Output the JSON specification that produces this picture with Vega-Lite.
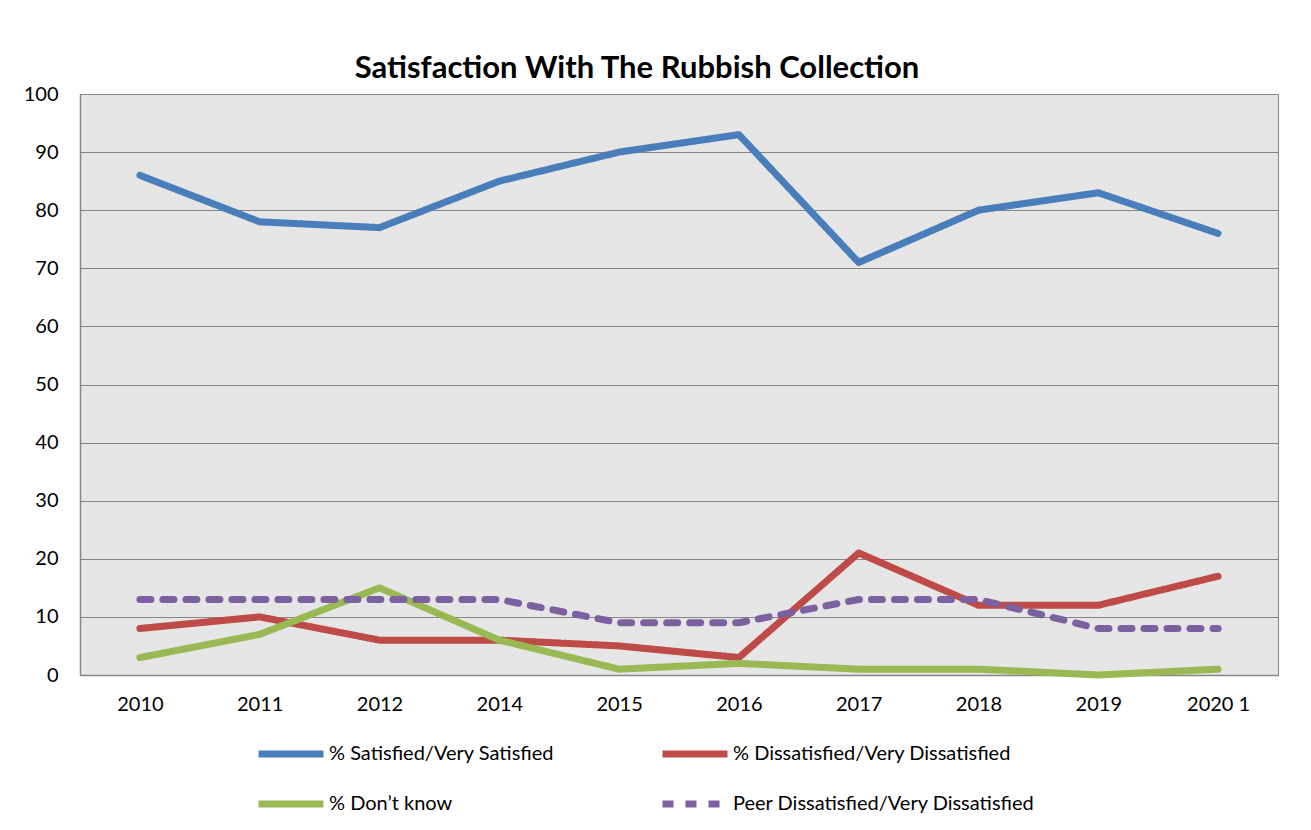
{
  "$schema": "https://vega.github.io/schema/vega-lite/v6.json",
  "width": 1198,
  "height": 581,
  "autosize": {"type": "none"},
  "padding": {"left": 80, "top": 94, "right": 33, "bottom": 155},
  "background": "white",
  "title": {
    "text": "Satisfaction With The Rubbish Collection",
    "font": "Lato",
    "fontSize": 31,
    "fontWeight": "bold",
    "color": "#000000",
    "anchor": "middle",
    "frame": "group",
    "dx": -42,
    "offset": -1
  },
  "data": {
    "values": [
      {"year": "2010", "series": "% Satisfied/Very Satisfied", "value": 86},
      {"year": "2011", "series": "% Satisfied/Very Satisfied", "value": 78},
      {"year": "2012", "series": "% Satisfied/Very Satisfied", "value": 77},
      {"year": "2014", "series": "% Satisfied/Very Satisfied", "value": 85},
      {"year": "2015", "series": "% Satisfied/Very Satisfied", "value": 90},
      {"year": "2016", "series": "% Satisfied/Very Satisfied", "value": 93},
      {"year": "2017", "series": "% Satisfied/Very Satisfied", "value": 71},
      {"year": "2018", "series": "% Satisfied/Very Satisfied", "value": 80},
      {"year": "2019", "series": "% Satisfied/Very Satisfied", "value": 83},
      {"year": "2020 1", "series": "% Satisfied/Very Satisfied", "value": 76},
      {"year": "2010", "series": "% Dissatisfied/Very Dissatisfied", "value": 8},
      {"year": "2011", "series": "% Dissatisfied/Very Dissatisfied", "value": 10},
      {"year": "2012", "series": "% Dissatisfied/Very Dissatisfied", "value": 6},
      {"year": "2014", "series": "% Dissatisfied/Very Dissatisfied", "value": 6},
      {"year": "2015", "series": "% Dissatisfied/Very Dissatisfied", "value": 5},
      {"year": "2016", "series": "% Dissatisfied/Very Dissatisfied", "value": 3},
      {"year": "2017", "series": "% Dissatisfied/Very Dissatisfied", "value": 21},
      {"year": "2018", "series": "% Dissatisfied/Very Dissatisfied", "value": 12},
      {"year": "2019", "series": "% Dissatisfied/Very Dissatisfied", "value": 12},
      {"year": "2020 1", "series": "% Dissatisfied/Very Dissatisfied", "value": 17},
      {"year": "2010", "series": "% Don’t know", "value": 3},
      {"year": "2011", "series": "% Don’t know", "value": 7},
      {"year": "2012", "series": "% Don’t know", "value": 15},
      {"year": "2014", "series": "% Don’t know", "value": 6},
      {"year": "2015", "series": "% Don’t know", "value": 1},
      {"year": "2016", "series": "% Don’t know", "value": 2},
      {"year": "2017", "series": "% Don’t know", "value": 1},
      {"year": "2018", "series": "% Don’t know", "value": 1},
      {"year": "2019", "series": "% Don’t know", "value": 0},
      {"year": "2020 1", "series": "% Don’t know", "value": 1},
      {"year": "2010", "series": "Peer Dissatisfied/Very Dissatisfied", "value": 13},
      {"year": "2011", "series": "Peer Dissatisfied/Very Dissatisfied", "value": 13},
      {"year": "2012", "series": "Peer Dissatisfied/Very Dissatisfied", "value": 13},
      {"year": "2014", "series": "Peer Dissatisfied/Very Dissatisfied", "value": 13},
      {"year": "2015", "series": "Peer Dissatisfied/Very Dissatisfied", "value": 9},
      {"year": "2016", "series": "Peer Dissatisfied/Very Dissatisfied", "value": 9},
      {"year": "2017", "series": "Peer Dissatisfied/Very Dissatisfied", "value": 13},
      {"year": "2018", "series": "Peer Dissatisfied/Very Dissatisfied", "value": 13},
      {"year": "2019", "series": "Peer Dissatisfied/Very Dissatisfied", "value": 8},
      {"year": "2020 1", "series": "Peer Dissatisfied/Very Dissatisfied", "value": 8}
    ]
  },
  "mark": {"type": "line", "strokeWidth": 7, "strokeCap": "round", "strokeJoin": "round"},
  "encoding": {
    "x": {
      "field": "year",
      "type": "ordinal",
      "scale": {"type": "point", "padding": 0.5},
      "sort": null,
      "axis": {
        "title": null,
        "labelAngle": 0,
        "labelFont": "Lato",
        "labelFontSize": 20,
        "labelColor": "#000000",
        "labelPadding": 19,
        "ticks": false,
        "domainColor": "#868686",
        "domainWidth": 1.5,
        "grid": false
      }
    },
    "y": {
      "field": "value",
      "type": "quantitative",
      "scale": {"domain": [0, 100], "nice": false},
      "axis": {
        "title": null,
        "values": [0, 10, 20, 30, 40, 50, 60, 70, 80, 90, 100],
        "labelFont": "Lato",
        "labelFontSize": 20,
        "labelColor": "#000000",
        "labelPadding": 22,
        "ticks": false,
        "domainColor": "#868686",
        "domainWidth": 1.5,
        "grid": true,
        "gridColor": "#868686",
        "gridWidth": 1
      }
    },
    "color": {
      "field": "series",
      "type": "nominal",
      "scale": {
        "domain": ["% Satisfied/Very Satisfied", "% Don’t know", "% Dissatisfied/Very Dissatisfied", "Peer Dissatisfied/Very Dissatisfied"],
        "range": ["#4A7EBB", "#98B954", "#BE4B48", "#7D60A0"]
      },
      "legend": {
        "title": null,
        "orient": "none",
        "legendX": 175,
        "legendY": 624,
        "columns": 2,
        "columnPadding": 17,
        "rowPadding": 0,
        "gridAlign": "all",
        "symbolType": "stroke",
        "symbolSize": 4225,
        "symbolStrokeWidth": 7,
        "labelFont": "Lato",
        "labelFontSize": 20,
        "labelColor": "#000000",
        "labelOffset": 2,
        "labelLimit": 400
      }
    },
    "strokeDash": {
      "field": "series",
      "type": "nominal",
      "scale": {
        "domain": ["% Satisfied/Very Satisfied", "% Don’t know", "% Dissatisfied/Very Dissatisfied", "Peer Dissatisfied/Very Dissatisfied"],
        "range": [[1, 0], [1, 0], [1, 0], [11, 12]]
      },
      "legend": null
    }
  },
  "config": {
    "view": {"fill": "#E6E6E6", "stroke": "#868686", "strokeWidth": 1}
  }
}
